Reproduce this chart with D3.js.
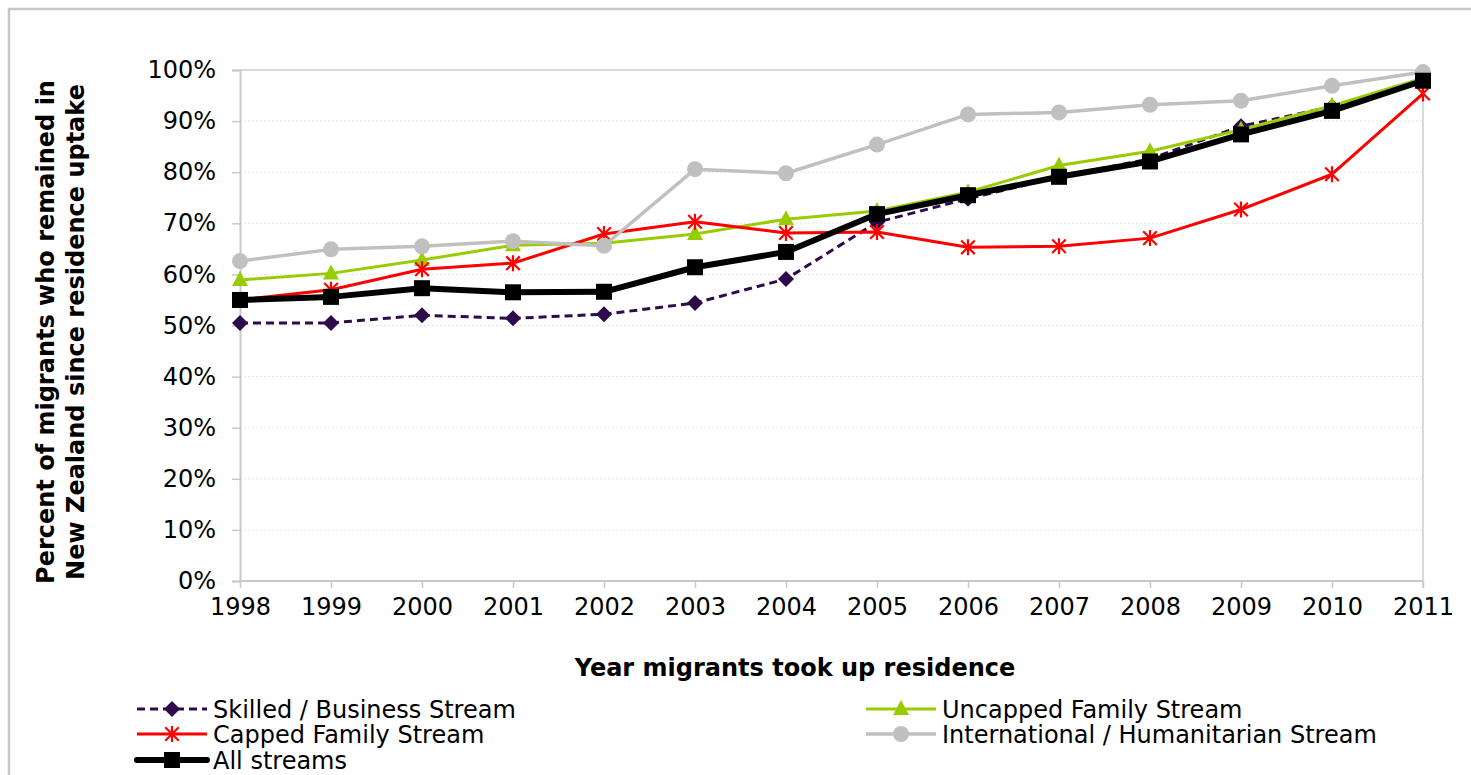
<!DOCTYPE html>
<html>
<head>
<meta charset="utf-8">
<script src="https://cdn.jsdelivr.net/npm/d3@7/dist/d3.min.js"></script>
<style>
  html, body { margin: 0; padding: 0; background: #fff; }
  svg { display: block; font-family: "DejaVu Sans", Verdana, sans-serif; }
</style>
</head>
<body>
<svg id="chart" width="1471" height="775"></svg>
<script>
// ---- data ----
const years = [1998, 1999, 2000, 2001, 2002, 2003, 2004, 2005, 2006, 2007, 2008, 2009, 2010, 2011];
const skilled = [50.5, 50.5, 52.0, 51.4, 52.2, 54.4, 59.1, 70.2, 74.8, 79.1, 82.6, 89.0, 92.8, 98.0];
const uncapped = [58.9, 60.2, 62.8, 65.7, 66.1, 67.9, 70.8, 72.4, 76.1, 81.3, 84.1, 88.3, 93.0, 98.4];
const capped = [55.0, 57.0, 61.0, 62.2, 67.9, 70.3, 68.1, 68.3, 65.3, 65.5, 67.1, 72.7, 79.6, 95.4];
const international = [62.6, 64.9, 65.5, 66.5, 65.6, 80.6, 79.8, 85.4, 91.3, 91.7, 93.2, 94.0, 96.9, 99.6];
const allStreams = [55.0, 55.6, 57.3, 56.5, 56.6, 61.4, 64.4, 71.8, 75.5, 79.1, 82.1, 87.4, 92.0, 97.9];
const yTicks = [0, 10, 20, 30, 40, 50, 60, 70, 80, 90, 100];
const seriesNames = ["Skilled / Business Stream", "Uncapped Family Stream", "Capped Family Stream", "International / Humanitarian Stream", "All streams"];
const xTitle = "Year migrants took up residence";
const yTitle = ["Percent of migrants who remained in", "New Zealand since residence uptake"];

const series = [
  { name: seriesNames[0], values: skilled, color: "#2e0b4a", width: 3, dash: "8,5", marker: "diamond" },
  { name: seriesNames[1], values: uncapped, color: "#99cc00", width: 3, dash: null, marker: "triangle" },
  { name: seriesNames[2], values: capped, color: "#ff0000", width: 3, dash: null, marker: "star" },
  { name: seriesNames[3], values: international, color: "#c0c0c0", width: 3.5, dash: null, marker: "circle" },
  { name: seriesNames[4], values: allStreams, color: "#000000", width: 6, dash: null, marker: "square" }
];

const FS = 24;
const svg = d3.select("#chart");
const W = 1471, H = 775;
const pLeft = 240, pRight = 1423, pTop = 70, pBottom = 581;

// outer border
svg.append("rect").attr("x", 9).attr("y", 9).attr("width", W + 20).attr("height", H + 20)
  .attr("fill", "none").attr("stroke", "#c8c8c8").attr("stroke-width", 2.5);

const x = d3.scalePoint().domain(years).range([pLeft, pRight]);
const y = d3.scaleLinear().domain([0, 100]).range([pBottom, pTop]);

// gridlines
const grid = svg.append("g");
grid.selectAll("line").data(yTicks.filter(t => t > 0)).join("line")
  .attr("x1", pLeft).attr("x2", pRight)
  .attr("y1", d => y(d)).attr("y2", d => y(d))
  .attr("stroke", d => d === 100 ? "#d9d9d9" : "#e6e6e6")
  .attr("stroke-width", d => d === 100 ? 2 : 1)
  .attr("stroke-dasharray", d => d === 100 ? null : "2,2");

// right vertical line
svg.append("line").attr("x1", pRight).attr("x2", pRight).attr("y1", pTop).attr("y2", pBottom + 7)
  .attr("stroke", "#d9d9d9").attr("stroke-width", 2);

// y axis
const yAxis = svg.append("g").attr("transform", `translate(${pLeft},0)`)
  .call(d3.axisLeft(y).tickValues(yTicks).tickFormat(d => d + "%").tickSize(8).tickPadding(16));
yAxis.select(".domain").attr("stroke", "#c8c8c8").attr("stroke-width", 2);
yAxis.selectAll(".tick line").attr("stroke", "#c8c8c8").attr("stroke-width", 1.5);
yAxis.selectAll(".tick text").attr("font-size", FS).attr("fill", "#000")
  .attr("font-family", "DejaVu Sans, Verdana, sans-serif");

// x axis
const xAxis = svg.append("g").attr("transform", `translate(0,${pBottom})`)
  .call(d3.axisBottom(x).tickSize(7).tickPadding(10));
xAxis.select(".domain").attr("stroke", "#c8c8c8").attr("stroke-width", 2)
  .attr("d", `M${pLeft},0H${pRight}`);
xAxis.selectAll(".tick line").attr("stroke", "#c8c8c8").attr("stroke-width", 1.5);
xAxis.selectAll(".tick text").attr("font-size", FS).attr("fill", "#000")
  .attr("font-family", "DejaVu Sans, Verdana, sans-serif");

// titles
svg.append("text").attr("x", 795).attr("y", 676).attr("text-anchor", "middle")
  .attr("font-size", FS).attr("font-weight", "bold").text(xTitle);
yTitle.forEach((t, i) => {
  svg.append("text")
    .attr("transform", `translate(${54 + i * 30},332) rotate(-90)`)
    .attr("text-anchor", "middle").attr("font-size", FS).attr("font-weight", "bold").text(t);
});

// marker drawer
function drawMarker(g, type, color, cx, cy) {
  if (type === "diamond") {
    g.append("path").attr("d", `M${cx},${cy - 8}L${cx + 8},${cy}L${cx},${cy + 8}L${cx - 8},${cy}Z`).attr("fill", color);
  } else if (type === "triangle") {
    g.append("path").attr("d", `M${cx},${cy - 9}L${cx + 8},${cy + 6}L${cx - 8},${cy + 6}Z`).attr("fill", color);
  } else if (type === "circle") {
    g.append("circle").attr("cx", cx).attr("cy", cy).attr("r", 8).attr("fill", color);
  } else if (type === "square") {
    g.append("rect").attr("x", cx - 8).attr("y", cy - 8).attr("width", 16).attr("height", 16).attr("fill", color);
  } else if (type === "star") {
    const s = 8;
    g.append("path").attr("d",
      `M${cx},${cy - s}L${cx},${cy + s}M${cx - s * 0.85},${cy - s * 0.85}L${cx + s * 0.85},${cy + s * 0.85}M${cx - s * 0.85},${cy + s * 0.85}L${cx + s * 0.85},${cy - s * 0.85}`)
      .attr("stroke", color).attr("stroke-width", 2.2).attr("fill", "none");
  }
}

const line = d3.line().x((d, i) => x(years[i])).y(d => y(d));
series.forEach(s => {
  const g = svg.append("g");
  g.append("path").attr("d", line(s.values)).attr("fill", "none")
    .attr("stroke", s.color).attr("stroke-width", s.width)
    .attr("stroke-dasharray", s.dash).attr("stroke-linejoin", "round");
  s.values.forEach((v, i) => drawMarker(g, s.marker, s.color, x(years[i]), y(v)));
});

// legend
const legendPos = [
  { x: 137, y: 709 }, { x: 866, y: 709 },
  { x: 137, y: 734 }, { x: 866, y: 734 },
  { x: 137, y: 760 }
];
series.forEach((s, i) => {
  const p = legendPos[i];
  const g = svg.append("g");
  g.append("line").attr("x1", p.x).attr("x2", p.x + 70).attr("y1", p.y).attr("y2", p.y)
    .attr("stroke", s.color).attr("stroke-width", s.width).attr("stroke-dasharray", s.dash)
    .attr("stroke-linecap", s.marker === "square" ? "round" : "butt");
  drawMarker(g, s.marker, s.color, p.x + 35, p.y);
  g.append("text").attr("x", p.x + 76).attr("y", p.y).attr("dy", "0.36em")
    .attr("font-size", FS).text(s.name);
});
</script>
</body>
</html>
